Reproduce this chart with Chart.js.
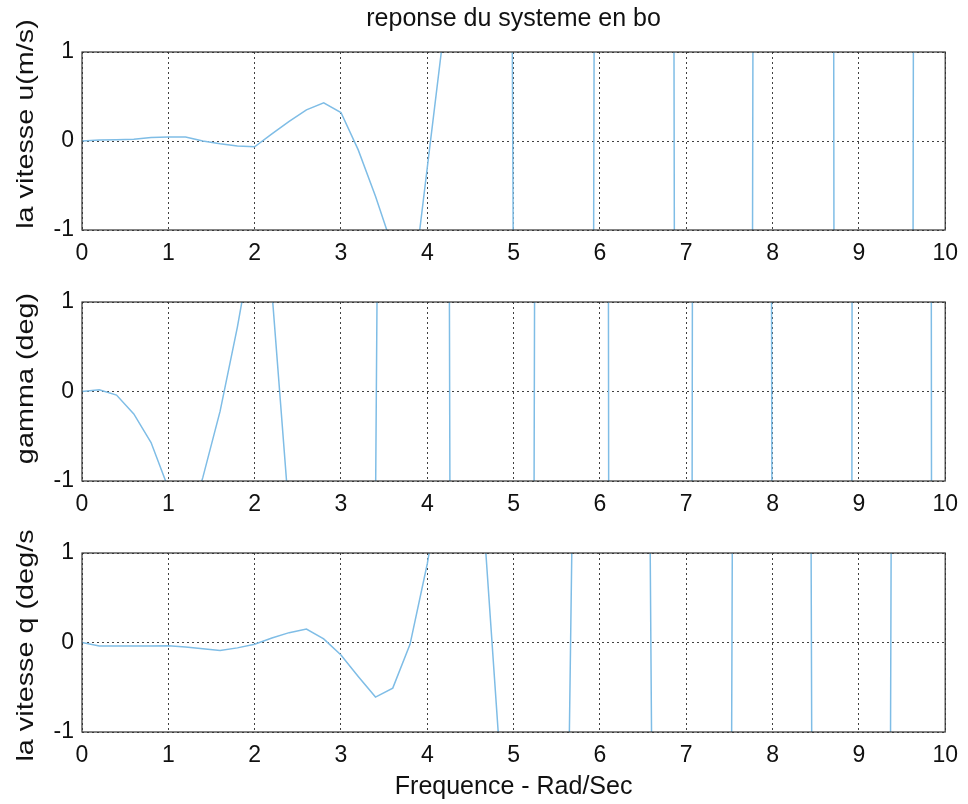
<!DOCTYPE html>
<html>
<head>
<meta charset="utf-8">
<title>reponse du systeme en bo</title>
<script src="https://cdn.jsdelivr.net/npm/chart.js@4.4.1/dist/chart.umd.min.js"></script>
<style>
  html, body { margin: 0; padding: 0; background: #fff; }
  #figure { position: relative; width: 968px; height: 804px; background: #fff; overflow: hidden; }
  #figure canvas { position: absolute; left: 0; }
</style>
</head>
<body>
<div id="figure">
  <canvas id="chartU" width="968" height="270" style="top:0"></canvas>
  <canvas id="chartGamma" width="968" height="260" style="top:270px"></canvas>
  <canvas id="chartQ" width="968" height="274" style="top:530px"></canvas>
</div>
<script>
// ==================== DATA ====================

// frequency samples (rad/s)
const freq = [
  0.0, 0.2, 0.4, 0.6, 0.8, 1.0, 1.2, 1.4, 1.6, 1.8,
  2.0, 2.2, 2.4, 2.6, 2.8, 3.0, 3.2, 3.4, 3.6, 3.8,
  4.0, 4.2, 4.4, 4.6, 4.8, 5.0, 5.2, 5.4, 5.6, 5.8,
  6.0, 6.2, 6.4, 6.6, 6.8, 7.0, 7.2, 7.4, 7.6, 7.8,
  8.0, 8.2, 8.4, 8.6, 8.8, 9.0, 9.2, 9.4, 9.6, 9.8,
  10.0
];

// la vitesse u (m/s)
const vitesseU = [
  0, 0.01, 0.015, 0.02, 0.04, 0.045, 0.045, 0.0, -0.03, -0.055,
  -0.065, 0.08, 0.22, 0.35, 0.43, 0.32, -0.1, -0.62, -1.2, -1.9,
  -0.3, 1.3, 9, 25, 40, -2.1, -30, -45, -50, -50,
  27, 55, 65, 60, 30, -70, -80, -85, -80, 14,
  70, 95, 100, 90, -74, -110, -120, -100, -19, 110,
  140
];

// gamma (deg)
const gamma = [
  0, 0.02, -0.04, -0.25, -0.57, -1.08, -1.6, -0.96, -0.22, 0.72,
  1.8, 1.12, -1.38, -8, -15, -20, -22, -1.3, 25, 35,
  40, 21, -50, -60, -65, -60, -15, 60, 75, 80,
  70, -70, -90, -95, -90, -48, 90, 110, 115, 100,
  -5.3, -90, -130, -140, -120, 80, 150, 170, 150, 40,
  -160
];

// la vitesse q (deg/s)
const vitesseQ = [
  0, -0.04, -0.04, -0.04, -0.04, -0.035, -0.05, -0.07, -0.09, -0.06,
  -0.02, 0.05, 0.11, 0.15, 0.04, -0.14, -0.38, -0.61, -0.51, -0.02,
  0.88, 2.0, 3.0, 2.1, -0.7, -3.5, -25, -28, -4.3, 10,
  25, 30, 25, -1.3, -30, -40, -35, -35, 19, 45,
  50, 45, 15, -45, -60, -65, -50, 8.8, 60, 75,
  80
];

const freqTicks = [0, 1, 2, 3, 4, 5, 6, 7, 8, 9, 10];
const valueTicks = [-1, 0, 1];

// ==================== STYLE ====================

const LINE_BLUE = '#7fbde6';
const GRID_COLOR = 'rgba(30,30,30,0.85)';
const TEXT_COLOR = '#111';

Chart.defaults.font.family = '"Liberation Sans", Arial, Helvetica, sans-serif';
Chart.defaults.color = TEXT_COLOR;

// solid box round the plot area, like a matlab axes
const framePlugin = {
  id: 'frame',
  afterDraw(chart) {
    const { ctx, chartArea: a } = chart;
    ctx.save();
    ctx.strokeStyle = '#333';
    ctx.lineWidth = 1.2;
    ctx.strokeRect(a.left, a.top, a.right - a.left, a.bottom - a.top);
    ctx.restore();
  }
};

// rotated y label, drawn a bit wider than the stock font
const sideLabelPlugin = {
  id: 'sideLabel',
  afterDraw(chart, args, opts) {
    if (!opts.text) return;
    const { ctx, chartArea: a } = chart;
    ctx.save();
    ctx.translate(opts.x, (a.top + a.bottom) / 2 + (opts.shift || 0));
    ctx.rotate(-Math.PI / 2);
    ctx.scale(opts.stretch || 1, 1);
    ctx.font = opts.size + 'px ' + Chart.defaults.font.family;
    ctx.fillStyle = TEXT_COLOR;
    ctx.textAlign = 'center';
    ctx.textBaseline = 'middle';
    ctx.fillText(opts.text, 0, 0);
    ctx.restore();
  }
};

// ==================== CHART FUNCTIONS ====================

// Create one subplot of the response
function createResponseChart(canvasId, values, label, layout) {
  const ctx = document.getElementById(canvasId)?.getContext('2d');
  if (!ctx) return null;

  const chart = new Chart(ctx, {
    type: 'line',
    data: {
      datasets: [{
        data: freq.map((f, i) => ({ x: f, y: values[i] })),
        borderColor: LINE_BLUE,
        borderWidth: 1.5,
        pointRadius: 0,
        tension: 0,
        clip: 0
      }]
    },
    options: {
      responsive: false,
      animation: false,
      events: [],
      layout: {
        padding: { top: layout.top, right: 18, bottom: 0, left: 0 }
      },
      plugins: {
        legend: { display: false },
        tooltip: { enabled: false },
        title: layout.title ? {
          display: true,
          text: layout.title,
          fullSize: false,
          color: TEXT_COLOR,
          font: { size: 25, weight: 'normal' },
          padding: { top: 4, bottom: 18 }
        } : { display: false },
        sideLabel: { text: label, x: 26, shift: layout.labelShift, size: 24, stretch: 1.2 }
      },
      scales: {
        x: {
          type: 'linear',
          min: 0,
          max: 10,
          afterBuildTicks: s => { s.ticks = freqTicks.map(v => ({ value: v })); },
          afterFit: s => { s.height = layout.axisHeight; },
          grid: { color: GRID_COLOR, lineWidth: 1, drawTicks: false },
          border: { display: false, dash: [2, 3] },
          ticks: { padding: 10, font: { size: 23 }, color: TEXT_COLOR },
          title: layout.xTitle ? {
            display: true,
            text: layout.xTitle,
            color: TEXT_COLOR,
            font: { size: 25 },
            padding: { top: 0, bottom: 2 }
          } : { display: false }
        },
        y: {
          type: 'linear',
          min: -1,
          max: 1,
          afterBuildTicks: s => { s.ticks = valueTicks.map(v => ({ value: v })); },
          afterFit: s => { s.width = 82; },
          grid: { color: GRID_COLOR, lineWidth: 1, drawTicks: false },
          border: { display: false, dash: [2, 3] },
          ticks: { padding: 8, font: { size: 23 }, color: TEXT_COLOR }
        }
      }
    },
    plugins: [framePlugin, sideLabelPlugin]
  });

  return chart;
}

createResponseChart('chartU', vitesseU, 'la vitesse u(m/s)', {
  top: 0, axisHeight: 40, labelShift: -17, title: 'reponse du systeme en bo'
});
createResponseChart('chartGamma', gamma, 'gamma (deg)', {
  top: 32, axisHeight: 49, labelShift: -13
});
createResponseChart('chartQ', vitesseQ, 'la vitesse q (deg/s', {
  top: 23, axisHeight: 72, labelShift: 3, xTitle: 'Frequence - Rad/Sec'
});
</script>
</body>
</html>
